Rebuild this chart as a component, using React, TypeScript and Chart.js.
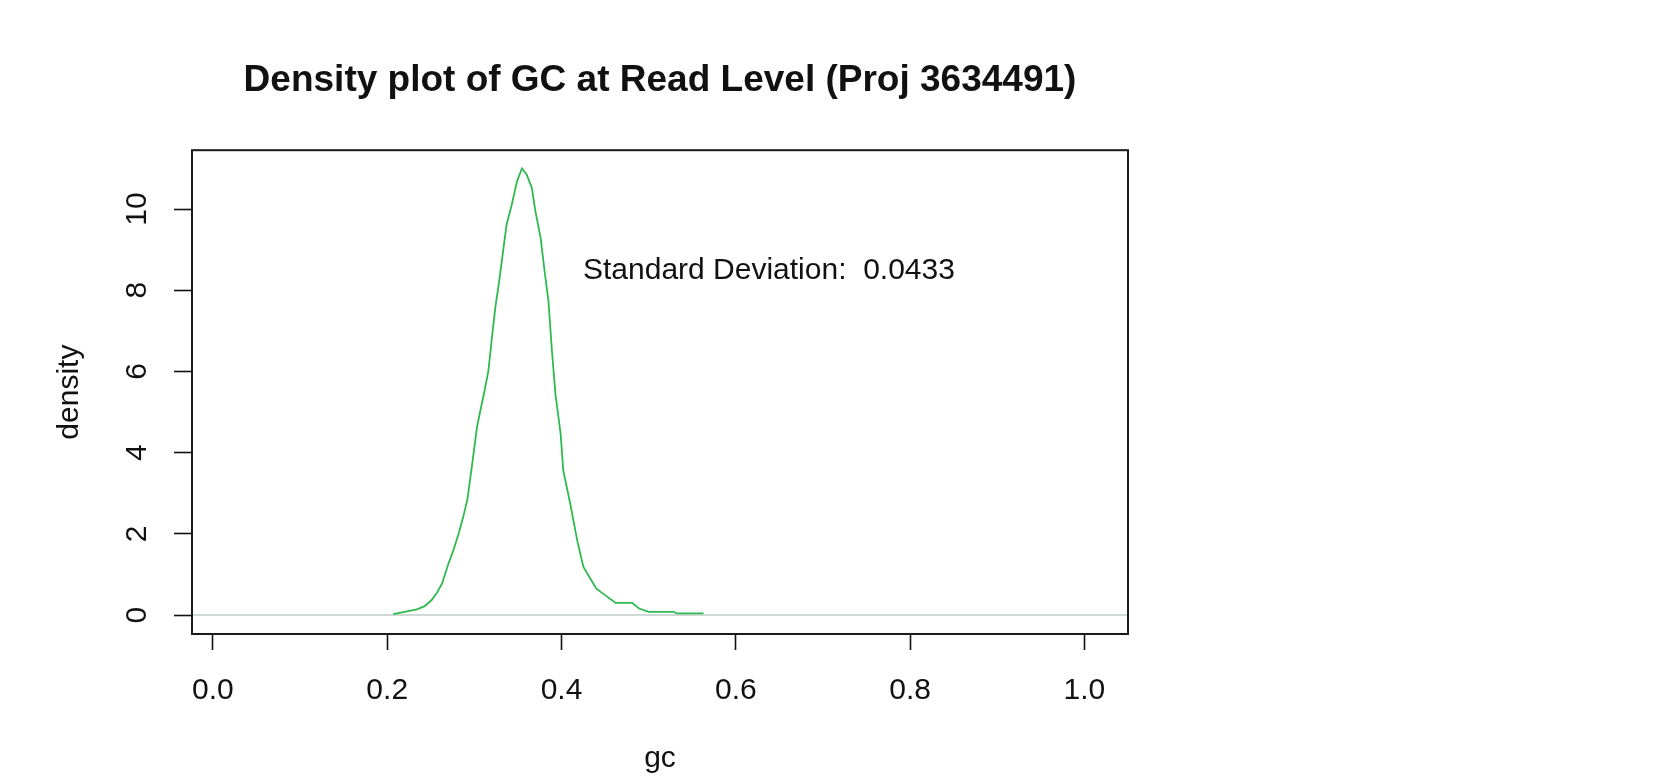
import React, { useEffect, useRef } from "react";
import { Chart, registerables } from "chart.js";

Chart.register(...registerables);

// ---- data ----
const gcValues = [
  0.207, 0.22, 0.234, 0.243, 0.251, 0.257, 0.263, 0.27, 0.276, 0.282,
  0.287, 0.292, 0.297, 0.303, 0.307, 0.311, 0.316, 0.32, 0.324, 0.328,
  0.333, 0.337, 0.343, 0.349, 0.3546, 0.36, 0.366, 0.37, 0.376, 0.381,
  0.385, 0.389, 0.393, 0.399, 0.402, 0.41, 0.418, 0.425, 0.433, 0.44,
  0.45, 0.462, 0.481, 0.489, 0.5, 0.529, 0.532, 0.563,
];
const densityValues = [
  0.02, 0.08, 0.14, 0.22, 0.37, 0.55, 0.78, 1.25, 1.6, 2.01,
  2.4, 2.85, 3.64, 4.63, 5.05, 5.45, 6.0, 6.8, 7.57, 8.15,
  8.97, 9.62, 10.12, 10.69, 11.0, 10.85, 10.52, 9.95, 9.29, 8.4,
  7.74, 6.51, 5.45, 4.46, 3.56, 2.74, 1.84, 1.19, 0.9, 0.65,
  0.49, 0.3, 0.3, 0.16, 0.08, 0.08, 0.04, 0.04,
];
const xTickValues = [0, 0.2, 0.4, 0.6, 0.8, 1.0];
const yTickValues = [0, 2, 4, 6, 8, 10];
const xRange = [-0.024, 1.05];
const yRange = [-0.467, 11.45];
const titleText = "Density plot of GC at Read Level (Proj 3634491)";
const xAxisLabel = "gc";
const yAxisLabel = "density";
const annotationText = "Standard Deviation:  0.0433";
const annotationX = 0.638;
const annotationY = 8.48;

const FONT = "'Liberation Sans', Arial, Helvetica, sans-serif";
const TEXT_COLOR = "#111111";

const rPlotPlugin = {
  id: "rPlot",
  beforeDatasetsDraw(chart: any) {
    const { ctx, chartArea, scales } = chart;
    const y0 = scales.y.getPixelForValue(0);
    ctx.save();
    ctx.strokeStyle = "#c2cbcb";
    ctx.lineWidth = 1.6;
    ctx.beginPath();
    ctx.moveTo(chartArea.left, y0);
    ctx.lineTo(chartArea.right, y0);
    ctx.stroke();
    ctx.restore();
  },
  afterDatasetsDraw(chart: any) {
    const { ctx, chartArea, scales } = chart;
    ctx.save();
    ctx.fillStyle = TEXT_COLOR;
    ctx.font = `30px ${FONT}`;
    ctx.textAlign = "center";
    ctx.textBaseline = "middle";
    ctx.fillText(
      annotationText,
      scales.x.getPixelForValue(annotationX),
      scales.y.getPixelForValue(annotationY)
    );
    ctx.strokeStyle = "#1a1a1a";
    ctx.lineWidth = 2;
    ctx.strokeRect(
      chartArea.left,
      chartArea.top,
      chartArea.right - chartArea.left,
      chartArea.bottom - chartArea.top
    );
    ctx.restore();
  },
};

export default function App() {
  const canvasRef = useRef<HTMLCanvasElement | null>(null);

  useEffect(() => {
    if (!canvasRef.current) return;
    const points = gcValues.map((x, i) => ({ x, y: densityValues[i] }));
    const chart = new Chart(canvasRef.current, {
      type: "scatter",
      data: {
        datasets: [
          {
            data: points,
            showLine: true,
            borderColor: "#2fba50",
            borderWidth: 1.8,
            pointRadius: 0,
            pointHoverRadius: 0,
            tension: 0,
            fill: false,
          },
        ],
      },
      options: {
        responsive: false,
        animation: false,
        events: [],
        layout: { padding: { left: 0, right: 531, top: 0, bottom: 0 } },
        plugins: {
          legend: { display: false },
          tooltip: { enabled: false },
          title: {
            display: true,
            text: titleText,
            fullSize: false,
            color: TEXT_COLOR,
            font: { family: FONT, size: 37, weight: "bold", lineHeight: 1.2 },
            padding: { top: 58.8, bottom: 47 },
          },
        },
        scales: {
          x: {
            type: "linear",
            min: xRange[0],
            max: xRange[1],
            afterBuildTicks: (scale: any) => {
              scale.ticks = xTickValues.map((v) => ({ value: v }));
            },
            afterFit: (scale: any) => {
              scale.height = 150;
            },
            grid: {
              display: true,
              drawOnChartArea: false,
              drawTicks: true,
              tickLength: 16,
              tickColor: "#111",
              tickWidth: 1.6,
            },
            border: { display: false },
            ticks: {
              autoSkip: false,
              maxRotation: 0,
              minRotation: 0,
              padding: 22.7,
              color: TEXT_COLOR,
              font: { family: FONT, size: 30 },
              callback: (v: any) => Number(v).toFixed(1),
            },
            title: {
              display: true,
              text: xAxisLabel,
              color: TEXT_COLOR,
              font: { family: FONT, size: 30 },
              padding: { top: 0, bottom: 7.5 },
            },
          },
          y: {
            type: "linear",
            min: yRange[0],
            max: yRange[1],
            afterBuildTicks: (scale: any) => {
              scale.ticks = yTickValues.map((v) => ({ value: v }));
            },
            afterFit: (scale: any) => {
              scale.width = 192;
            },
            grid: {
              display: true,
              drawOnChartArea: false,
              drawTicks: true,
              tickLength: 18,
              tickColor: "#111",
              tickWidth: 1.6,
            },
            border: { display: false },
            ticks: {
              autoSkip: false,
              minRotation: 90,
              maxRotation: 90,
              crossAlign: "center",
              padding: 19.3,
              color: TEXT_COLOR,
              font: { family: FONT, size: 30 },
              callback: (v: any) => String(Math.round(Number(v))),
            },
            title: {
              display: true,
              text: yAxisLabel,
              color: TEXT_COLOR,
              font: { family: FONT, size: 30 },
              padding: { top: 51.5, bottom: 0 },
            },
          },
        },
      },
      plugins: [rPlotPlugin],
    } as any);
    return () => chart.destroy();
  }, []);

  return (
    <div style={{ position: "absolute", left: 0, top: 0, width: 1659, height: 784, background: "#ffffff" }}>
      <canvas ref={canvasRef} width={1659} height={784} style={{ display: "block" }} />
    </div>
  );
}
